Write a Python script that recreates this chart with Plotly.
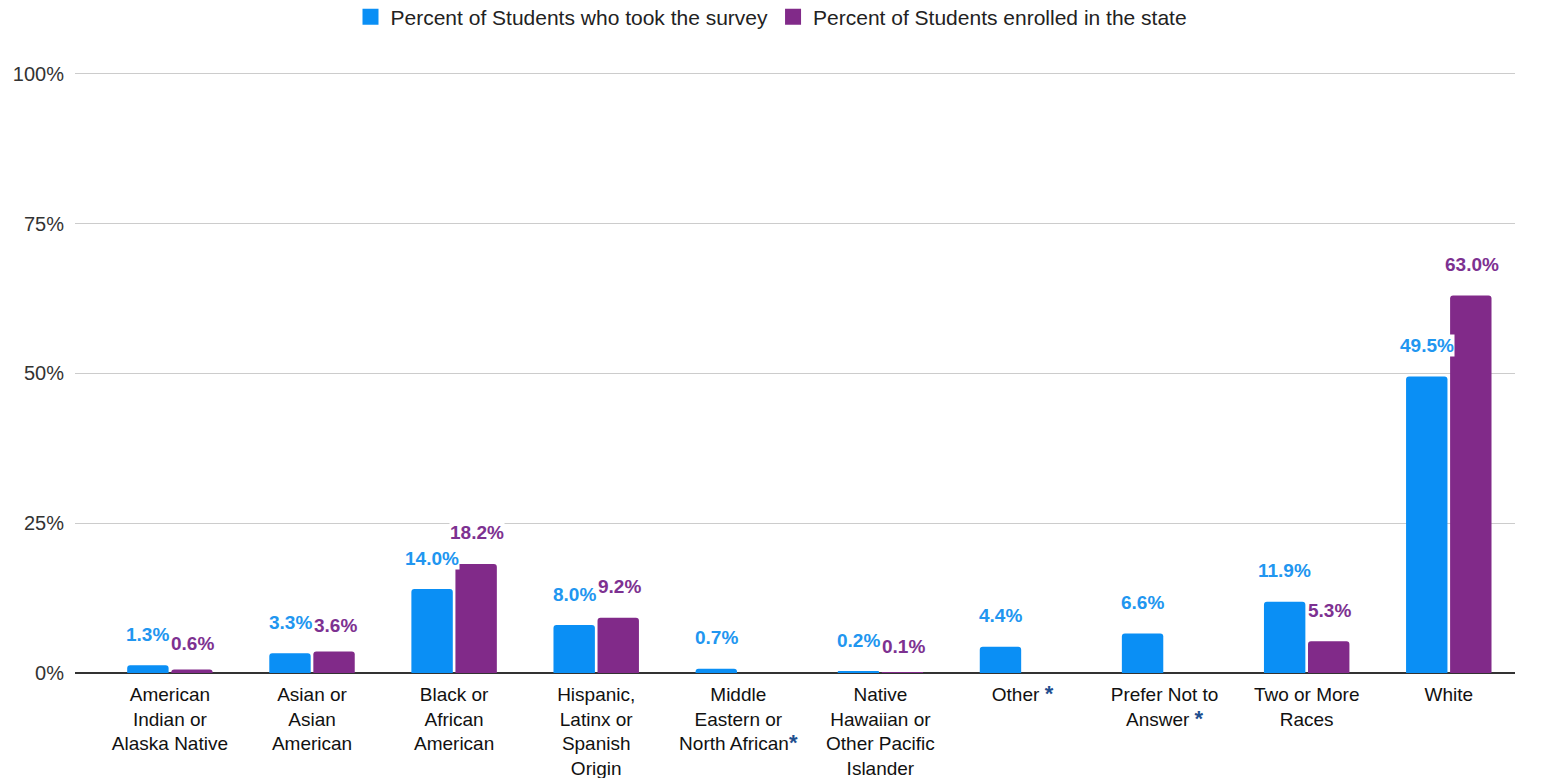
import plotly.graph_objects as go

# Race / ethnicity categories (HTML markup for line breaks and the flagged asterisks)
STAR = "<span style='color:#1f4f8f;font-size:22px'><b>*</b></span>"
categories = [
    "American<br>Indian or<br>Alaska Native",
    "Asian or<br>Asian<br>American",
    "Black or<br>African<br>American",
    "Hispanic,<br>Latinx or<br>Spanish<br>Origin",
    "Middle<br>Eastern or<br>North African" + STAR,
    "Native<br>Hawaiian or<br>Other Pacific<br>Islander",
    "Other " + STAR,
    "Prefer Not to<br>Answer " + STAR,
    "Two or More<br>Races",
    "White",
]

survey_pct = [1.3, 3.3, 14.0, 8.0, 0.7, 0.2, 4.4, 6.6, 11.9, 49.5]
state_pct = [0.6, 3.6, 18.2, 9.2, None, 0.1, None, None, 5.3, 63.0]

series_names = [
    "Percent of Students who took the survey",
    "Percent of Students enrolled in the state",
]

y_ticks = [0, 25, 50, 75, 100]
y_tick_labels = ["0%", "25%", "50%", "75%", "100%"]

BLUE = "#0a8ff5"
PURPLE = "#812a89"
BLUE_TXT = "#2196f0"
PURPLE_TXT = "#7d3191"
FONT = "Liberation Sans, Arial, sans-serif"

fig = go.Figure()
fig.add_trace(go.Bar(x=categories, y=survey_pct, name=series_names[0], showlegend=False,
                     marker=dict(color=BLUE, line=dict(width=0))))
fig.add_trace(go.Bar(x=categories, y=state_pct, name=series_names[1], showlegend=False,
                     marker=dict(color=PURPLE, line=dict(width=0))))

# Legend entries with larger square swatches
for name, color in zip(series_names, (BLUE, PURPLE)):
    fig.add_trace(go.Scatter(x=[None], y=[None], mode="markers", name=name,
                             marker=dict(symbol="square", size=19, color=color)))

# Value labels floating above each bar, on a white backing.
# When the two labels of a group sit at nearly the same height, the
# second one is nudged down a little so they don't run together.
annotations = []
for i, cat in enumerate(categories):
    s, t = survey_pct[i], state_pct[i]
    for v, xs, color, is_state in ((s, -22, BLUE_TXT, False), (t, 23, PURPLE_TXT, True)):
        if v is None:
            continue
        ys = 31
        if is_state and s is not None and abs(v - s) <= 1.0:
            ys = 26
        annotations.append(dict(
            x=cat, y=v, xref="x", yref="y", text=f"<b>{v:.1f}%</b>",
            showarrow=False, xshift=xs, yshift=ys, yanchor="middle",
            bgcolor="white", borderpad=0,
            font=dict(family=FONT, size=19, color=color),
        ))

fig.update_layout(
    width=1543, height=778,
    paper_bgcolor="white", plot_bgcolor="white",
    margin=dict(l=75, r=28, t=72, b=105, autoexpand=False),
    font=dict(family=FONT, size=19, color="#222222"),
    barmode="group", bargap=0.38, bargroupgap=0.06, barcornerradius=3,
    showlegend=True,
    legend=dict(orientation="h", x=0.5, xanchor="center", xref="container",
                y=1 - 17 / 778, yanchor="middle", yref="container",
                font=dict(family=FONT, size=21, color="#222222"),
                itemwidth=30, traceorder="normal"),
    annotations=annotations,
    xaxis=dict(range=[-0.668, 9.466], showgrid=False, ticks="", showline=False,
               ticklabelstandoff=8,
               tickfont=dict(family=FONT, size=19, color="#111111")),
    yaxis=dict(range=[0, 100.3], tickvals=y_ticks, ticktext=y_tick_labels,
               showgrid=True, gridcolor="#cccccc", gridwidth=1,
               zeroline=True, zerolinecolor="#333333", zerolinewidth=2,
               ticks="", ticklabelstandoff=10,
               tickfont=dict(family=FONT, size=20, color="#333333")),
)

fig.write_html("out.html")
